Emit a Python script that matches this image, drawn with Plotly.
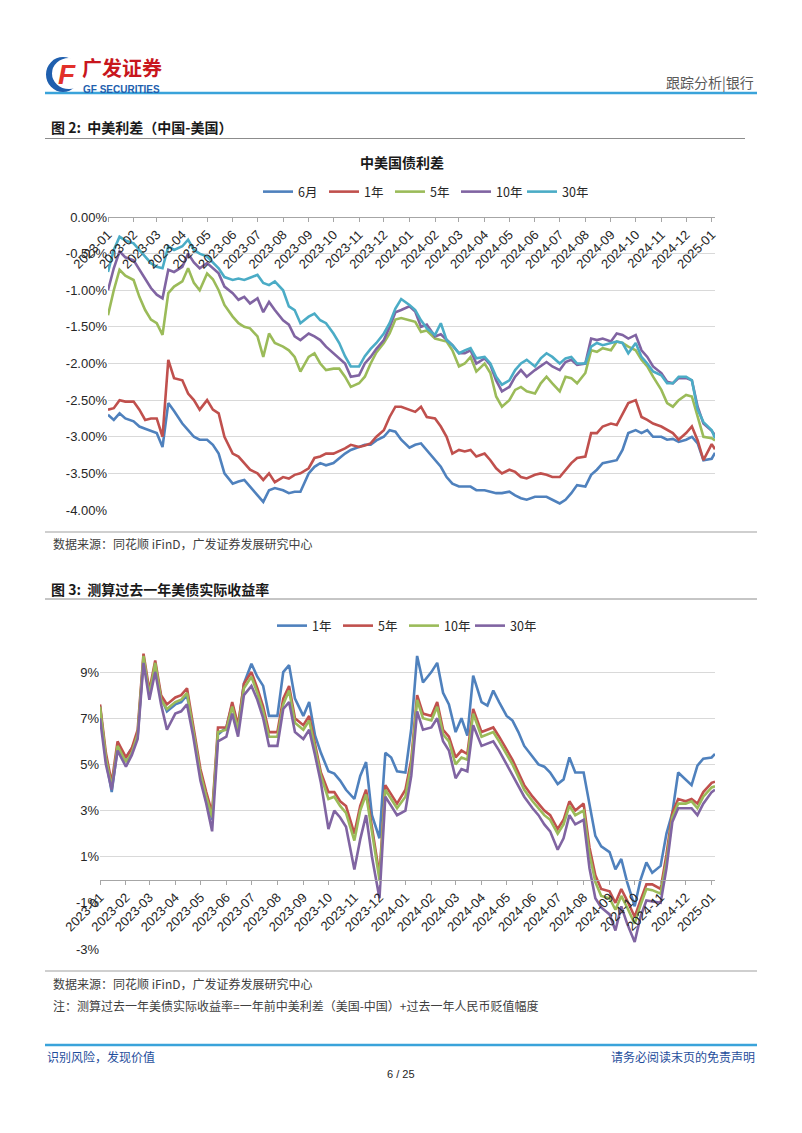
import plotly.graph_objects as go

W, H = 802, 1133
OFF = 8  # the page body margin shifts the figure by 8px right and down

# ---------------- data ----------------
MONTHS = [(2023, m) for m in range(1, 13)] + [(2024, m) for m in range(1, 13)]
DAYS = [3, 10, 17, 24]
dates = [f"{y}-{m:02d}-{d:02d}" for (y, m) in MONTHS for d in DAYS] + ["2025-01-03", "2025-01-07"]

spread_names = ["6月", "1年", "5年", "10年", "30年"]
spread_6m = [
    -2.70, -2.77, -2.68, -2.75, -2.79, -2.86, -2.89, -2.92, -2.95, -3.14, -2.54, -2.65,
    -2.82, -2.91, -3.00, -3.04, -3.04, -3.11, -3.23, -3.50, -3.64, -3.61, -3.59, -3.68,
    -3.80, -3.89, -3.73, -3.70, -3.73, -3.77, -3.75, -3.75, -3.50, -3.41, -3.36, -3.39,
    -3.36, -3.29, -3.23, -3.18, -3.14, -3.11, -3.11, -3.05, -3.00, -2.91, -2.93, -3.04,
    -3.15, -3.11, -3.09, -3.18, -3.32, -3.41, -3.55, -3.64, -3.68, -3.68, -3.68, -3.73,
    -3.73, -3.75, -3.77, -3.77, -3.75, -3.80, -3.84, -3.86, -3.82, -3.82, -3.82, -3.86,
    -3.91, -3.86, -3.77, -3.66, -3.68, -3.52, -3.45, -3.36, -3.34, -3.32, -3.18, -2.95,
    -2.91, -2.95, -2.91, -3.00, -3.00, -3.04, -3.03, -3.07, -3.04, -3.00, -3.09, -3.32,
    -3.30, -3.22]
spread_1y = [
    -2.63, -2.61, -2.50, -2.52, -2.52, -2.63, -2.77, -2.75, -2.75, -3.00, -1.95, -2.20,
    -2.23, -2.41, -2.50, -2.63, -2.50, -2.63, -2.68, -3.00, -3.23, -3.27, -3.36, -3.45,
    -3.50, -3.59, -3.50, -3.62, -3.55, -3.57, -3.52, -3.50, -3.43, -3.29, -3.27, -3.23,
    -3.23, -3.20, -3.16, -3.11, -3.14, -3.12, -3.09, -3.00, -2.91, -2.73, -2.59, -2.59,
    -2.63, -2.66, -2.59, -2.73, -2.75, -2.86, -3.00, -3.23, -3.18, -3.20, -3.18, -3.27,
    -3.23, -3.32, -3.43, -3.50, -3.45, -3.48, -3.55, -3.57, -3.52, -3.50, -3.52, -3.55,
    -3.55, -3.45, -3.36, -3.29, -3.27, -2.95, -2.95, -2.86, -2.82, -2.84, -2.68, -2.54,
    -2.50, -2.73, -2.77, -2.82, -2.86, -2.91, -2.95, -3.04, -2.95, -2.86, -3.05, -3.32,
    -3.10, -3.17]
spread_5y = [
    -1.34, -1.00, -0.72, -0.80, -0.86, -1.09, -1.27, -1.40, -1.45, -1.61, -1.04, -0.95,
    -0.88, -0.70, -0.90, -1.00, -0.77, -0.85, -1.00, -1.20, -1.36, -1.45, -1.50, -1.52,
    -1.63, -1.91, -1.59, -1.72, -1.77, -1.82, -1.91, -2.11, -1.91, -1.86, -2.00, -2.09,
    -2.07, -2.07, -2.18, -2.32, -2.27, -2.18, -2.00, -1.85, -1.72, -1.59, -1.40, -1.38,
    -1.41, -1.43, -1.57, -1.55, -1.66, -1.68, -1.70, -1.82, -2.04, -2.00, -1.91, -2.11,
    -2.00, -2.13, -2.45, -2.59, -2.50, -2.36, -2.32, -2.38, -2.41, -2.27, -2.18, -2.27,
    -2.38, -2.18, -2.20, -2.27, -2.13, -1.82, -1.84, -1.79, -1.82, -1.70, -1.72, -1.77,
    -1.82, -1.95, -2.04, -2.18, -2.36, -2.54, -2.59, -2.50, -2.43, -2.45, -2.73, -3.00,
    -3.02, -3.05]
spread_10y = [
    -1.00, -0.70, -0.47, -0.55, -0.59, -0.72, -0.85, -0.97, -1.06, -1.11, -0.72, -0.75,
    -0.68, -0.50, -0.62, -0.70, -0.63, -0.70, -0.77, -0.95, -1.04, -1.13, -1.09, -1.18,
    -1.11, -1.30, -1.16, -1.27, -1.41, -1.47, -1.63, -1.68, -1.59, -1.63, -1.68, -1.77,
    -1.86, -1.93, -2.00, -2.18, -2.16, -2.00, -1.91, -1.80, -1.68, -1.50, -1.30, -1.27,
    -1.22, -1.29, -1.50, -1.47, -1.63, -1.60, -1.68, -1.75, -1.86, -1.86, -1.82, -2.00,
    -1.93, -2.02, -2.23, -2.38, -2.32, -2.18, -2.09, -2.18, -2.09, -2.04, -1.98, -2.04,
    -2.09, -1.98, -1.95, -2.02, -2.00, -1.66, -1.68, -1.66, -1.70, -1.59, -1.61, -1.66,
    -1.61, -1.82, -1.91, -2.04, -2.13, -2.25, -2.27, -2.20, -2.20, -2.23, -2.59, -2.82,
    -2.92, -2.98]
spread_30y = [
    -0.75, -0.45, -0.27, -0.32, -0.36, -0.45, -0.55, -0.63, -0.68, -0.70, -0.40, -0.45,
    -0.40, -0.31, -0.45, -0.50, -0.54, -0.62, -0.70, -0.82, -0.86, -0.84, -0.86, -0.83,
    -0.79, -0.90, -0.93, -0.88, -1.00, -1.22, -1.27, -1.45, -1.36, -1.32, -1.41, -1.45,
    -1.59, -1.72, -1.90, -2.04, -2.04, -1.90, -1.80, -1.72, -1.59, -1.45, -1.25, -1.12,
    -1.20, -1.27, -1.41, -1.52, -1.61, -1.45, -1.68, -1.75, -1.86, -1.82, -1.79, -1.93,
    -1.91, -2.00, -2.18, -2.29, -2.23, -2.09, -2.00, -1.95, -2.04, -1.93, -1.86, -1.91,
    -2.00, -1.93, -1.91, -2.00, -2.00, -1.77, -1.72, -1.75, -1.72, -1.70, -1.72, -1.86,
    -1.72, -1.91, -2.00, -2.11, -2.16, -2.27, -2.27, -2.18, -2.18, -2.23, -2.63, -2.80,
    -2.91, -3.02]
spread_series = [spread_6m, spread_1y, spread_5y, spread_10y, spread_30y]

rr_names = ["1年", "5年", "10年", "30年"]
rr_1y = [
    7.55, 5.2, 3.8, 5.7, 5.3, 5.7, 6.2, 9.6, 8.0, 9.3, 7.9, 7.3,
    7.6, 7.7, 8.0, 6.6, 4.6, 3.6, 2.6, 6.3, 6.6, 7.6, 6.6, 8.5,
    9.36, 8.8, 8.4, 7.1, 7.1, 9.0, 9.3, 7.85, 7.1, 7.7, 6.25, 5.5,
    4.7, 4.6, 4.3, 3.9, 3.5, 4.5, 5.1, 2.8, 1.8, 5.5, 5.3, 4.7,
    4.65, 6.55, 9.7, 8.55, 9.0, 9.4, 8.1, 7.6, 6.4, 7.0, 6.25, 8.85,
    7.7, 7.55, 8.2, 7.7, 7.1, 6.9, 6.4, 5.8, 5.3, 5.0, 4.9, 4.65,
    4.15, 4.35, 5.3, 4.65, 4.65, 3.2, 1.9, 1.45, 1.2, 0.45, 0.9, -0.1,
    -1.15, 0.0, 0.75, 0.3, 0.6, 2.0, 2.9, 4.65, 4.35, 4.1, 4.95, 5.25,
    5.3, 5.45]
rr_5y = [
    7.6, 5.5, 4.2, 6.0, 5.3, 5.7, 6.5, 9.8, 8.2, 9.5, 8.0, 7.6,
    7.9, 8.0, 8.3, 6.8, 4.8, 3.8, 2.9, 6.6, 6.6, 7.7, 6.7, 8.5,
    9.0, 8.3, 7.5, 6.4, 6.4, 7.85, 8.4, 7.0, 6.7, 7.1, 5.95, 4.65,
    3.8, 3.8, 3.4, 3.2, 2.0, 3.2, 3.9, 2.2, 0.2, 4.1, 3.7, 3.3,
    3.9, 5.2, 8.0, 7.2, 7.1, 7.7, 6.5, 6.2, 5.3, 5.6, 5.45, 7.4,
    6.4, 6.5, 6.6, 6.2, 5.65, 5.2, 4.65, 4.1, 3.6, 3.3, 3.0, 2.8,
    2.2, 2.6, 3.4, 3.0, 3.3, 1.4, 0.2, -0.4, -0.5, -1.0, -0.4, -0.9,
    -1.6, -0.9, -0.2, -0.2, -0.4, 1.1, 2.9, 3.5, 3.4, 3.5, 3.3, 3.8,
    4.2, 4.25]
rr_10y = [
    7.5, 5.3, 4.0, 5.8, 5.1, 5.5, 6.3, 9.7, 8.0, 9.4, 7.8, 7.4,
    7.7, 7.8, 8.1, 6.6, 4.6, 3.6, 2.7, 6.4, 6.5, 7.5, 6.5, 8.3,
    8.8, 8.1, 7.3, 6.2, 6.2, 7.6, 8.2, 6.8, 6.5, 6.9, 5.7, 4.5,
    3.5, 3.6, 3.2, 2.9, 1.7, 3.0, 3.7, 2.0, 0.0, 3.9, 3.5, 3.1,
    3.6, 5.0, 7.8, 7.0, 6.9, 7.5, 6.3, 6.0, 5.0, 5.3, 5.2, 7.2,
    6.2, 6.3, 6.4, 6.0, 5.45, 5.0, 4.45, 3.9, 3.4, 3.1, 2.8, 2.6,
    2.0, 2.4, 3.2, 2.8, 3.0, 1.1, -0.1, -0.7, -0.8, -1.3, -0.7, -1.2,
    -1.9, -1.1, -0.4, -0.45, -0.6, 0.8, 2.7, 3.3, 3.3, 3.4, 3.1, 3.6,
    4.0, 4.05]
rr_30y = [
    7.0, 5.0, 3.9, 5.6, 4.9, 5.4, 6.1, 9.4, 7.8, 9.0, 7.6, 6.5,
    7.2, 7.3, 7.6, 6.3, 4.3, 3.3, 2.1, 6.0, 6.2, 7.2, 6.2, 8.0,
    8.4, 7.8, 7.0, 5.8, 5.8, 7.4, 7.7, 6.4, 6.1, 6.5, 5.4, 4.2,
    2.2, 3.0, 2.7, 2.3, 0.45, 1.75, 2.8, 1.0, -0.8, 3.6, 3.2, 2.8,
    3.0, 4.5, 7.3, 6.5, 6.6, 7.0, 6.0, 5.6, 4.4, 4.8, 4.7, 6.7,
    5.8, 5.9, 6.0, 5.6, 5.0, 4.6, 4.1, 3.6, 3.1, 2.8, 2.4, 2.1,
    1.3, 1.8, 2.8, 2.4, 2.6, 0.5, -0.8, -1.2, -1.5, -2.2, -1.15, -1.9,
    -2.7, -1.6, -0.9, -0.95, -1.0, 0.5, 2.5, 3.1, 3.1, 3.1, 2.8, 3.3,
    3.8, 3.9]
rr_series = [rr_1y, rr_5y, rr_10y, rr_30y]

spread_ticks = [0.0, -0.5, -1.0, -1.5, -2.0, -2.5, -3.0, -3.5, -4.0]
rr_ticks = [-3, -1, 1, 3, 5, 7, 9]
rr_grid = [-3, 1, 3, 5, 7, 9]
rr_range = [-3, 10]

C_SPREAD = ["#4F81BD", "#C0504D", "#9BBB59", "#8064A2", "#4BACC6"]
C_RR = ["#4F81BD", "#C0504D", "#9BBB59", "#8064A2"]
NUM_FONT = "Liberation Sans, Arial, sans-serif"
CJK_FONT = "Noto Sans CJK SC, sans-serif"
GRID = "#D9D9D9"
AXIS = "#A6A6A6"


def X(px):
    return (px - OFF) / W


def Y(py):
    return 1 - (py - OFF) / H


fig = go.Figure()
for name, vals, col in zip(spread_names, spread_series, C_SPREAD):
    fig.add_trace(go.Scatter(x=dates, y=vals, name=name, mode="lines",
                             line=dict(color=col, width=2.6),
                             xaxis="x", yaxis="y", legend="legend"))
for name, vals, col in zip(rr_names, rr_series, C_RR):
    fig.add_trace(go.Scatter(x=dates, y=vals, name=name, mode="lines",
                             line=dict(color=col, width=2.6),
                             xaxis="x2", yaxis="y2", legend="legend2"))
fig.add_trace(go.Scatter(x=[dates[0]], y=[None], xaxis="x2", yaxis="y3",
                         showlegend=False, hoverinfo="skip"))

y2_lo, y2_hi = Y(949), Y(649)
x2_pos = y2_lo + (0 - rr_range[0]) / (rr_range[1] - rr_range[0]) * (y2_hi - y2_lo)
tickfont = dict(family=NUM_FONT, size=13, color="#262626")
legfont = dict(family=CJK_FONT, size=12.5, color="#262626")

fig.update_layout(
    width=W, height=H, autosize=False,
    margin=dict(l=0, r=0, t=0, b=0, autoexpand=False),
    paper_bgcolor="white", plot_bgcolor="white", hovermode=False,
    xaxis=dict(domain=[X(108), X(715)], anchor="free", position=Y(217), side="bottom",
               type="date", range=[dates[0], dates[-1]], automargin=False,
               tick0=dates[0], dtick="M1", tickformat="%Y-%m", tickangle=-45,
               tickfont=tickfont, showgrid=False, zeroline=False,
               showline=True, linecolor=AXIS, linewidth=1,
               ticks="outside", ticklen=4, tickcolor=AXIS),
    yaxis=dict(domain=[Y(510), Y(217)], anchor="x", range=[-4.0, 0.0], automargin=False,
               tickvals=spread_ticks, ticktext=[f"{v:.2f}%" for v in spread_ticks],
               tickfont=tickfont, showgrid=True, gridcolor=GRID, gridwidth=1,
               zeroline=False, showline=False, ticks=""),
    xaxis2=dict(domain=[X(100), X(715)], anchor="free", position=x2_pos, side="bottom",
                type="date", range=[dates[0], dates[-1]], automargin=False,
                tick0=dates[0], dtick="M1", tickformat="%Y-%m", tickangle=-45,
                tickfont=tickfont, showgrid=False, zeroline=False,
                showline=True, linecolor=AXIS, linewidth=1,
                ticks="outside", ticklen=4, tickcolor=AXIS),
    yaxis2=dict(domain=[y2_lo, y2_hi], anchor="x2", range=rr_range, automargin=False,
                tickvals=rr_ticks, ticktext=[f"{v}%" for v in rr_ticks],
                tickfont=tickfont, showgrid=False, zeroline=False, showline=False, ticks=""),
    yaxis3=dict(overlaying="y2", anchor="x2", range=rr_range, tickvals=rr_grid,
                automargin=False,
                showticklabels=False, showgrid=True, gridcolor=GRID, gridwidth=1,
                zeroline=False, showline=False, ticks=""),
    legend=dict(orientation="h", x=X(258), xanchor="left", y=Y(192), yanchor="middle",
                font=legfont, bgcolor="rgba(0,0,0,0)", itemwidth=30, tracegroupgap=0,
                entrywidth=21, entrywidthmode="pixels"),
    legend2=dict(orientation="h", x=X(272), xanchor="left", y=Y(626), yanchor="middle",
                 font=legfont, bgcolor="rgba(0,0,0,0)", itemwidth=30, tracegroupgap=0,
                 entrywidth=21, entrywidthmode="pixels"),
)

shapes = []


def hline(py, x0, x1, color, width):
    shapes.append(dict(type="line", xref="paper", yref="paper",
                       x0=X(x0), x1=X(x1), y0=Y(py), y1=Y(py),
                       line=dict(color=color, width=width)))


shapes.append(dict(type="line", xref="paper", yref="paper", x0=X(801), x1=X(801),
                   y0=0, y1=1, line=dict(color="#B0B0B0", width=1)))
hline(93, 45, 757, "#3AA3DA", 2.5)
hline(138.5, 45, 745, "#8C8C8C", 1)
hline(532, 45, 757, "#A0A0A0", 1.2)
hline(599, 45, 757, "#8C8C8C", 1)
hline(971, 45, 757, "#A0A0A0", 1.2)
hline(1045, 45, 757, "#3AA3DA", 2.5)

# logo icon
shapes.append(dict(type="circle", xref="paper", yref="paper", x0=X(46), x1=X(80),
                   y0=Y(92), y1=Y(57), fillcolor="#1F5FAE", line=dict(width=0)))
shapes.append(dict(type="circle", xref="paper", yref="paper", x0=X(52), x1=X(86),
                   y0=Y(89), y1=Y(58), fillcolor="white", line=dict(width=0)))
fig.update_layout(shapes=shapes)

anns = []


def text(s, px, py, size, color="#262626", xanchor="left", family=CJK_FONT):
    anns.append(dict(text=s, x=X(px), y=Y(py), xref="paper", yref="paper",
                     xanchor=xanchor, yanchor="middle", showarrow=False,
                     font=dict(family=family, size=size, color=color)))


text("<b><i>F</i></b>", 67, 75, 28, "#E2302A", "center", NUM_FONT)
text("<b>广发证券</b>", 80, 67, 20, "#C8161D")
text("<b>GF SECURITIES</b>", 81, 89, 10, "#1F5FAE", "left", NUM_FONT)
text("跟踪分析|银行", 756, 82, 14, "#595959", "right")
text("<b>图 2:  中美利差（中国-美国）</b>", 49, 127, 14, "#1A1A1A")
text("<b>中美国债利差</b>", 402, 162, 14, "#1A1A1A", "center")
text("数据来源：同花顺 iFinD，广发证券发展研究中心", 51, 544, 12, "#404040")
text("<b>图 3:  测算过去一年美债实际收益率</b>", 49, 589, 14, "#1A1A1A")
text("数据来源：同花顺 iFinD，广发证券发展研究中心", 51, 983, 12, "#404040")
text("注：测算过去一年美债实际收益率=一年前中美利差（美国-中国）+过去一年人民币贬值幅度",
     51, 1005, 12, "#404040")
text("识别风险，发现价值", 45, 1056, 12, "#1F4E9C")
text("请务必阅读末页的免责声明", 757, 1056, 12, "#1F4E9C", "right")
text("6 / 25", 401, 1074, 11, "#262626", "center", NUM_FONT)
fig.update_layout(annotations=anns)

fig.write_html("out.html")
